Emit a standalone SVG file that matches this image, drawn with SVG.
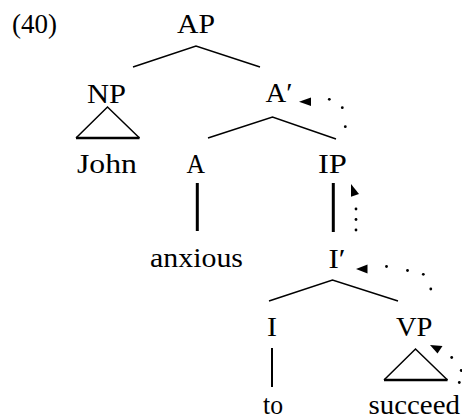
<svg xmlns="http://www.w3.org/2000/svg" width="462" height="420" viewBox="0 0 462 420">
  <style>
    .lbl { font-family: 'Liberation Serif', 'DejaVu Serif', 'Times New Roman', serif; font-size: 28px; fill: #000; }
    .edge { stroke: #000; stroke-width: 1.5; fill: none; stroke-linecap: butt; }
    .unary { stroke: #000; stroke-width: 3; fill: none; }
    .thin-unary { stroke: #000; stroke-width: 2; fill: none; }
    .tri { stroke: #000; stroke-width: 1.5; fill: none; }
    .tri-base { stroke: #000; stroke-width: 2.5; fill: none; }
    .dot { fill: #000; }
    .head { fill: #000; }
  </style>

  <!-- example number -->
  <text id="label" class="lbl" x="12" y="33" textLength="45" lengthAdjust="spacingAndGlyphs">(40)</text>

  <!-- tree nodes -->
  <g id="AP"><text class="lbl" x="177" y="33" textLength="38" lengthAdjust="spacingAndGlyphs">AP</text></g>
  <g id="NP"><text class="lbl" x="87" y="103" textLength="39" lengthAdjust="spacingAndGlyphs">NP</text></g>
  <g id="Abar"><text class="lbl" x="265.5" y="102" textLength="27" lengthAdjust="spacingAndGlyphs">A′</text></g>
  <g id="John"><text class="lbl" x="77" y="173" textLength="60" lengthAdjust="spacingAndGlyphs">John</text></g>
  <g id="A"><text class="lbl" x="186.5" y="173" textLength="18.5" lengthAdjust="spacingAndGlyphs">A</text></g>
  <g id="IP"><text class="lbl" x="318" y="173" textLength="29" lengthAdjust="spacingAndGlyphs">IP</text></g>
  <g id="anxious"><text class="lbl" x="150" y="267" textLength="93" lengthAdjust="spacingAndGlyphs">anxious</text></g>
  <g id="Ibar"><text class="lbl" x="328.5" y="268" textLength="17" lengthAdjust="spacingAndGlyphs">I′</text></g>
  <g id="I"><text class="lbl" x="267" y="336" textLength="10" lengthAdjust="spacingAndGlyphs">I</text></g>
  <g id="VP"><text class="lbl" x="396" y="336" textLength="36.5" lengthAdjust="spacingAndGlyphs">VP</text></g>
  <g id="to"><text class="lbl" x="263" y="414" textLength="20" lengthAdjust="spacingAndGlyphs">to</text></g>
  <g id="succeed"><text class="lbl" x="368.5" y="414" textLength="91.5" lengthAdjust="spacingAndGlyphs">succeed</text></g>

  <!-- branches -->
  <g id="connectors">
    <polyline class="edge" points="133,67 196,46 260,67"/>
    <polyline class="edge" points="208,138 272.5,117 336,139"/>
    <polyline class="edge" points="269,301 332.5,280 398,301"/>

    <!-- roof triangles -->
    <polyline class="tri" points="76,138 107.5,107 139.5,138"/>
    <line class="tri-base" x1="76" y1="138" x2="139.5" y2="138"/>
    <polyline class="tri" points="384,380 415.5,349 447.5,380"/>
    <line class="tri-base" x1="384" y1="380" x2="447.5" y2="380"/>

    <!-- unary branches -->
    <line class="unary" x1="197.3" y1="183" x2="197.3" y2="231"/>
    <line class="unary" x1="333.3" y1="183" x2="333.3" y2="232"/>
    <line class="thin-unary" x1="272" y1="348" x2="272" y2="387"/>

    <!-- movement path: VP -> I' -> IP -> A' -->
    <polygon class="head" points="430,345 442.5,346 437.5,353.5"/>
    <circle class="dot" cx="451.7" cy="357.5" r="1.4"/>
    <circle class="dot" cx="461.2" cy="370.5" r="1.4"/>
    <circle class="dot" cx="459.3" cy="382.5" r="1.4"/>

    <polygon class="head" points="356,269 367.5,264.5 367.5,273.5"/>
    <circle class="dot" cx="386.5" cy="266.5" r="1.4"/>
    <circle class="dot" cx="407.5" cy="270.5" r="1.4"/>
    <circle class="dot" cx="423.3" cy="274.3" r="1.4"/>
    <circle class="dot" cx="430.8" cy="289" r="1.4"/>

    <polygon class="head" points="351,184 351,196.7 359,194"/>
    <circle class="dot" cx="356" cy="209" r="1.4"/>
    <circle class="dot" cx="356" cy="219.5" r="1.4"/>
    <circle class="dot" cx="356" cy="230" r="1.4"/>

    <polygon class="head" points="299,101.7 311,97.5 311,106"/>
    <circle class="dot" cx="329.3" cy="99.3" r="1.4"/>
    <circle class="dot" cx="342.3" cy="107.7" r="1.4"/>
    <circle class="dot" cx="345.3" cy="126.7" r="1.4"/>
  </g>
</svg>
